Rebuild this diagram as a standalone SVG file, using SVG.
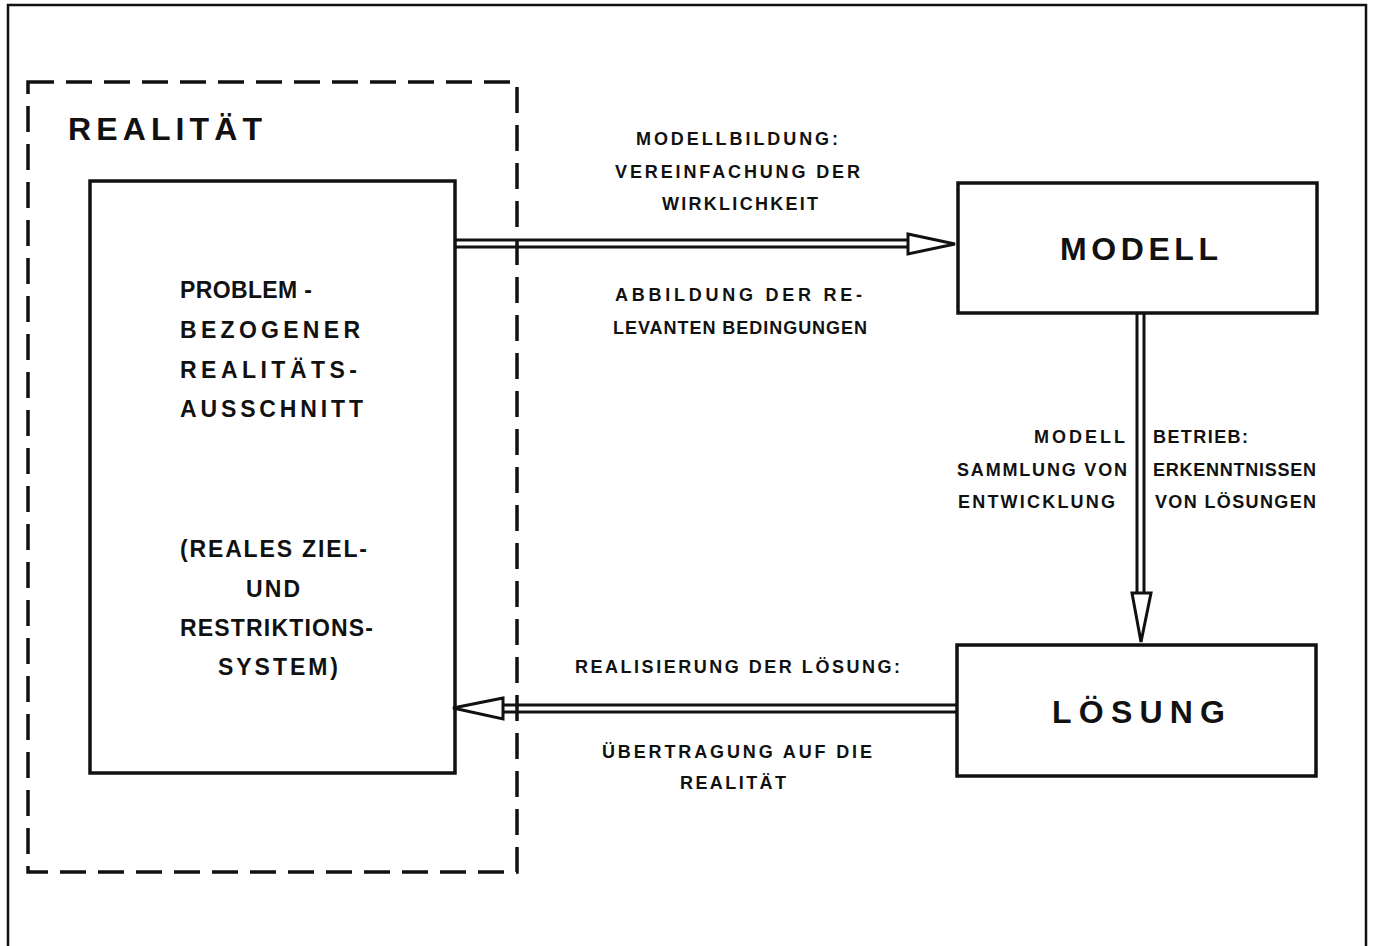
<svg xmlns="http://www.w3.org/2000/svg" width="1373" height="946" viewBox="0 0 1373 946">
<style>
  .box { fill: #fff; stroke: #111; stroke-width: 3.5; }
  .ln { stroke: #111; stroke-width: 3; fill: none; }
  .head { fill: #fff; stroke: #111; stroke-width: 3; stroke-linejoin: miter; }
  text { font-family: "Liberation Sans", Arial, sans-serif; font-weight: bold; fill: #111; }
  .s { font-size: 18px; }
  .m { font-size: 23px; }
  .l { font-size: 32px; }
</style>
<rect width="1373" height="946" fill="#fff"/>
<path d="M8 946 V5 H1366 V946" fill="none" stroke="#111" stroke-width="2.5"/>

<g id="realitaet">
  <rect x="28" y="82" width="489" height="790" fill="none" stroke="#111" stroke-width="3.5" stroke-dasharray="26 12"/>
  <text class="l" x="68" y="140" textLength="194" lengthAdjust="spacing">REALITÄT</text>
</g>

<g id="ausschnitt">
  <rect class="box" x="90" y="181" width="365" height="592"/>
  <text class="m" x="180" y="298" textLength="132" lengthAdjust="spacing">PROBLEM -</text>
  <text class="m" x="180" y="338" textLength="180" lengthAdjust="spacing">BEZOGENER</text>
  <text class="m" x="180" y="378" textLength="177" lengthAdjust="spacing">REALITÄTS-</text>
  <text class="m" x="180" y="417" textLength="183" lengthAdjust="spacing">AUSSCHNITT</text>
  <text class="m" x="180" y="557" textLength="187" lengthAdjust="spacing">(REALES ZIEL-</text>
  <text class="m" x="246" y="597" textLength="54" lengthAdjust="spacing">UND</text>
  <text class="m" x="180" y="636" textLength="193" lengthAdjust="spacing">RESTRIKTIONS-</text>
  <text class="m" x="218" y="675" textLength="120" lengthAdjust="spacing">SYSTEM)</text>
</g>

<g id="modell">
  <rect class="box" x="958" y="183" width="359" height="130"/>
  <text class="l" x="1060" y="260" textLength="158" lengthAdjust="spacing">MODELL</text>
</g>

<g id="loesung">
  <rect class="box" x="957" y="645" width="359" height="131"/>
  <text class="l" x="1052" y="723" textLength="173" lengthAdjust="spacing">LÖSUNG</text>
</g>

<g id="connectors">
  <!-- Realität -> Modell -->
  <line class="ln" x1="455" y1="240" x2="910" y2="240"/>
  <line class="ln" x1="455" y1="247" x2="910" y2="247"/>
  <polygon class="head" points="908,234 955,244 908,254"/>
  <!-- Modell -> Lösung -->
  <line class="ln" x1="1137" y1="313" x2="1137" y2="595"/>
  <line class="ln" x1="1144" y1="313" x2="1144" y2="595"/>
  <polygon class="head" points="1132,593 1151,593 1141,642"/>
  <!-- Lösung -> Realität -->
  <line class="ln" x1="957" y1="705" x2="502" y2="705"/>
  <line class="ln" x1="957" y1="712" x2="502" y2="712"/>
  <polygon class="head" points="503,698 453,708 503,719"/>
</g>

<g id="labels">
  <text class="s" x="636" y="145" textLength="202" lengthAdjust="spacing">MODELLBILDUNG:</text>
  <text class="s" x="615" y="178" textLength="245" lengthAdjust="spacing">VEREINFACHUNG DER</text>
  <text class="s" x="662" y="210" textLength="156" lengthAdjust="spacing">WIRKLICHKEIT</text>
  <text class="s" x="615" y="301" textLength="247" lengthAdjust="spacing">ABBILDUNG DER RE-</text>
  <text class="s" x="613" y="334" textLength="254" lengthAdjust="spacing">LEVANTEN BEDINGUNGEN</text>

  <text class="s" x="1034" y="443" textLength="91" lengthAdjust="spacing">MODELL</text>
  <text class="s" x="957" y="476" textLength="170" lengthAdjust="spacing">SAMMLUNG VON</text>
  <text class="s" x="958" y="508" textLength="157" lengthAdjust="spacing">ENTWICKLUNG</text>
  <text class="s" x="1153" y="443" textLength="95" lengthAdjust="spacing">BETRIEB:</text>
  <text class="s" x="1153" y="476" textLength="163" lengthAdjust="spacing">ERKENNTNISSEN</text>
  <text class="s" x="1155" y="508" textLength="161" lengthAdjust="spacing">VON LÖSUNGEN</text>

  <text class="s" x="575" y="673" textLength="325" lengthAdjust="spacing">REALISIERUNG DER LÖSUNG:</text>
  <text class="s" x="602" y="758" textLength="270" lengthAdjust="spacing">ÜBERTRAGUNG AUF DIE</text>
  <text class="s" x="680" y="789" textLength="106" lengthAdjust="spacing">REALITÄT</text>
</g>
</svg>
